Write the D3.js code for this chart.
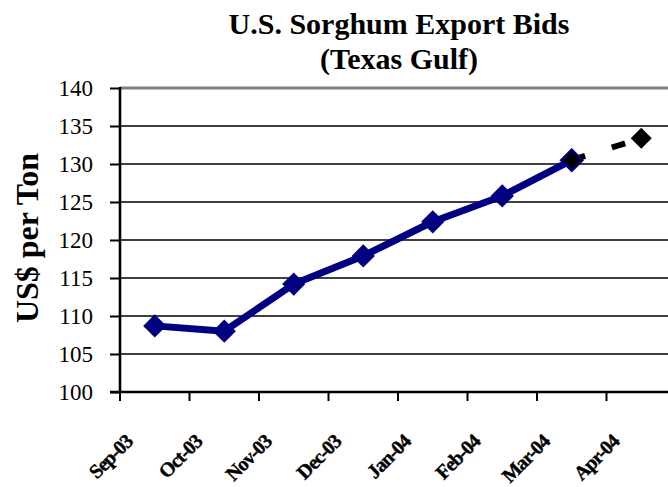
<!DOCTYPE html>
<html>
<head>
<meta charset="utf-8">
<script src="https://cdn.jsdelivr.net/npm/d3@7"></script>
<style>
  body { margin: 0; background: #fff; }
  svg { display: block; font-family: "Liberation Serif", "Times New Roman", serif; }
</style>
</head>
<body>
<div id="chart"></div>
<script>
//Datos
const months = ['Sep-03','Oct-03','Nov-03','Dec-03','Jan-04','Feb-04','Mar-04','Apr-04'];
const bids = [108.7, 108.0, 114.2, 117.9, 122.4, 125.8, 130.5];
const forecastMonths = ['Mar-04','Apr-04'];
const forecast = [130.5, 133.4];
const yTicks = [100,105,110,115,120,125,130,135,140];

const NAVY = '#000080';
const FONT = '"Liberation Serif", "Times New Roman", serif';

let width = 668, height = 487;
let margin = {top: 88, right: -8, bottom: 95, left: 120};

let svg = d3.select('#chart').append('svg')
    .attr('width', width)
    .attr('height', height);

let x = d3.scaleBand()
    .domain(months)
    .range([margin.left, width - margin.right]);

let y = d3.scaleLinear()
    .domain([100, 140])
    .range([height - margin.bottom, margin.top]);

//Titulo
svg.append('text')
    .attr('x', 399).attr('y', 34)
    .attr('text-anchor', 'middle')
    .style('font-size', '30px').style('font-weight', 'bold')
    .text('U.S. Sorghum Export Bids');
svg.append('text')
    .attr('x', 399).attr('y', 69)
    .attr('text-anchor', 'middle')
    .style('font-size', '30px').style('font-weight', 'bold')
    .text('(Texas Gulf)');

//Lineas de cuadricula
svg.append('g')
    .selectAll('line')
    .data(yTicks.filter(d => d > 100))
    .enter().append('line')
    .attr('x1', margin.left).attr('x2', width)
    .attr('y1', d => y(d)).attr('y2', d => y(d))
    .attr('stroke', d => d == 140 ? '#808080' : '#000')
    .attr('stroke-width', d => d == 140 ? 3 : 1.3);

//Eje Y
let yAxis = svg.append('g')
    .attr('transform', 'translate(' + margin.left + ',0)')
    .attr('font-family', FONT)
    .call(d3.axisLeft(y).tickValues(yTicks).tickSize(10).tickPadding(17));
yAxis.select('.domain').attr('stroke-width', 2.6).attr('d', 'M0,' + (y(140) - 1) + 'V' + y(100));
yAxis.selectAll('.tick line').attr('stroke-width', 2);
yAxis.selectAll('text')
    .style('font-size', '23px')
    .style('font-family', FONT)
    .attr('fill', '#000');

//Eje X
let xAxis = svg.append('g')
    .attr('transform', 'translate(0,' + y(100) + ')')
    .call(d3.axisBottom(x).tickSize(0).tickFormat(''));
xAxis.select('.domain').attr('stroke-width', 2.6).attr('d', 'M' + (margin.left - 10) + ',0H' + width);

svg.append('g')
    .selectAll('line')
    .data(months)
    .enter().append('line')
    .attr('x1', d => x(d)).attr('x2', d => x(d))
    .attr('y1', y(100)).attr('y2', y(100) + 9)
    .attr('stroke', '#000').attr('stroke-width', 2);

svg.append('g')
    .selectAll('text')
    .data(months)
    .enter().append('text')
    .attr('transform', d => 'translate(' + (x(d) + x.bandwidth() / 2 - 21) + ',443) rotate(-45)')
    .attr('text-anchor', 'end')
    .style('font-size', '20px').style('font-weight', 'bold')
    .style('letter-spacing', '-1px')
    .attr('stroke', '#000').attr('stroke-width', 0.4)
    .text(d => d);

//Titulo eje Y
svg.append('text')
    .attr('transform', 'translate(38,238) rotate(-90)')
    .attr('text-anchor', 'middle')
    .style('font-size', '32px').style('font-weight', 'bold')
    .text('US$ per Ton');

let cx = d => x(d) + x.bandwidth() / 2;
let diamond = d3.symbol().type(d3.symbolSquare).size(270);

//Serie real
let actual = bids.map((v, i) => ({m: months[i], v: v}));
svg.append('path')
    .datum(actual)
    .attr('fill', 'none')
    .attr('stroke', NAVY)
    .attr('stroke-width', 7)
    .attr('stroke-linejoin', 'round')
    .attr('d', d3.line().x(d => cx(d.m)).y(d => y(d.v)));

svg.append('g')
    .selectAll('path')
    .data(actual)
    .enter().append('path')
    .attr('d', diamond)
    .attr('transform', d => 'translate(' + cx(d.m) + ',' + y(d.v) + ') rotate(45)')
    .attr('fill', NAVY);

//Serie prevision
let fc = forecast.map((v, i) => ({m: forecastMonths[i], v: v}));
svg.append('path')
    .datum(fc)
    .attr('fill', 'none')
    .attr('stroke', '#000')
    .attr('stroke-width', 6)
    .attr('stroke-dasharray', '14,28')
    .attr('d', d3.line().x(d => cx(d.m)).y(d => y(d.v)));

svg.append('g')
    .selectAll('path')
    .data(fc)
    .enter().append('path')
    .attr('d', d3.symbol().type(d3.symbolSquare).size(220))
    .attr('transform', d => 'translate(' + cx(d.m) + ',' + y(d.v) + ') rotate(45)')
    .attr('fill', '#000')
    .attr('stroke', (d, i) => i == 0 ? NAVY : 'none')
    .attr('stroke-width', 2.5);
</script>
</body>
</html>
